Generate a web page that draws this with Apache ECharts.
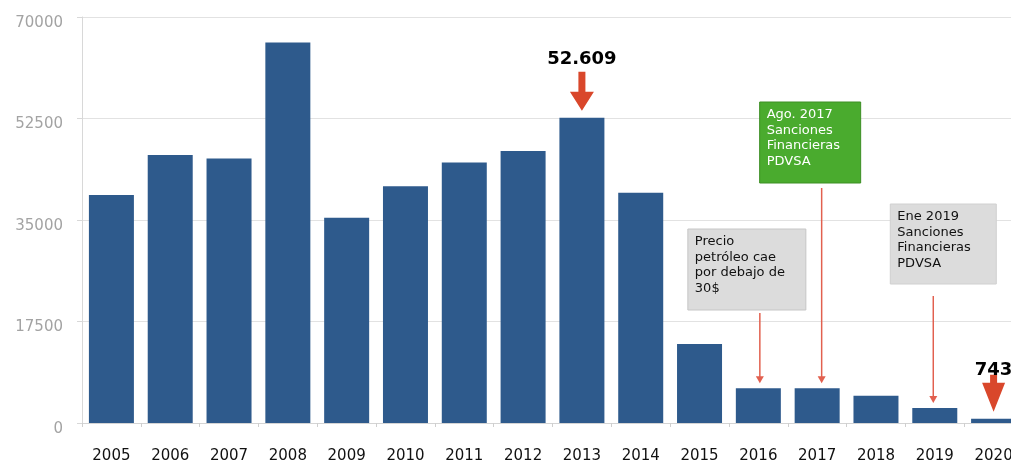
<!DOCTYPE html>
<html>
<head>
<meta charset="utf-8">
<script src="https://cdn.jsdelivr.net/npm/echarts@6/dist/echarts.min.js"></script>
<style>
html,body{margin:0;padding:0;background:#fff;}
#chart{width:1011px;height:461px;}
</style>
</head>
<body>
<div id="chart"></div>
<script>
// ---- data ----
const years = ['2005','2006','2007','2008','2009','2010','2011','2012','2013','2014','2015','2016','2017','2018','2019','2020'];
const values = [39300, 46200, 45600, 65600, 35400, 40800, 44900, 46900, 52609, 39700, 13600, 6000, 6000, 4700, 2600, 743];
const yMin = 0, yMax = 70000, yStep = 17500;

const highlightYears = ['2013', '2020'];
const highlightLabels = ['52.609', '743'];

const noteYears = ['2016', '2017', '2019'];
const noteTexts = [
  'Precio\npetróleo cae\npor debajo de\n30$',
  'Ago. 2017\nSanciones\nFinancieras\nPDVSA',
  'Ene 2019\nSanciones\nFinancieras\nPDVSA'
];

// ---- layout / style (not data) ----
const FONT = '"DejaVu Sans", sans-serif';
const highlightStyle = [
  {shaft: 20, head: 19, hw: 12, sw: 3.5, gap: 7, textDy: -52},
  {shaft: 8,  head: 29, hw: 11.5, sw: 3.5, gap: 7, textDy: -41}
];
const noteStyle = [
  {dxBox: -70.5, top: 229, w: 118, h: 81, dxLine: 1.5, lineGap: 3, fill: '#dcdcdc', stroke: '#c6c6c6', color: '#111'},
  {dxBox: -57.5, top: 102, w: 101, h: 81, dxLine: 4.5, lineGap: 5, fill: '#4aab2e', stroke: '#3c8f24', color: '#fff'},
  {dxBox: -44.5, top: 204, w: 106, h: 80, dxLine: -1.5, lineGap: 12, fill: '#dcdcdc', stroke: '#d0d0d0', color: '#111'}
];

const chart = echarts.init(document.getElementById('chart'));
chart.setOption({
  animation: false,
  grid: {left: 82, width: 941, top: 17, bottom: 38, outerBoundsMode: 'none', containLabel: false},
  xAxis: {
    type: 'category',
    data: years,
    axisLine: {lineStyle: {color: '#d4d4d4'}},
    axisTick: {show: true, length: 4, lineStyle: {color: '#cfcfcf'}},
    axisLabel: {color: '#111', fontSize: 15, fontFamily: FONT, margin: 26, hideOverlap: false}
  },
  yAxis: {
    type: 'value',
    min: yMin, max: yMax, interval: yStep,
    axisLine: {show: true, lineStyle: {color: '#d8d8d8'}},
    axisTick: {show: true, length: 5, lineStyle: {color: '#d8d8d8'}},
    splitLine: {lineStyle: {color: '#e2e2e2'}},
    axisLabel: {color: '#a3a3a3', fontSize: 15, fontFamily: FONT, margin: 19, verticalAlign: 'top',
                lineHeight: 12, formatter: v => String(v)}
  },
  series: [{
    type: 'bar',
    data: values,
    barWidth: 45,
    itemStyle: {color: '#2e5a8c'}
  }]
});

function buildAnnotations() {
  const g = [];
  highlightYears.forEach((yr, i) => {
    const idx = years.indexOf(yr);
    const p = chart.convertToPixel({seriesIndex: 0}, [idx, values[idx]]);
    const s = highlightStyle[i];
    const x = p[0], t = p[1] - s.gap;
    g.push({
      type: 'polygon',
      shape: {points: [
        [x - s.sw, t - s.head - s.shaft], [x + s.sw, t - s.head - s.shaft],
        [x + s.sw, t - s.head], [x + s.hw, t - s.head], [x, t],
        [x - s.hw, t - s.head], [x - s.sw, t - s.head]
      ]},
      style: {fill: '#d9472b'},
      z: 10
    });
    g.push({
      type: 'text',
      x: x, y: t + s.textDy,
      style: {text: highlightLabels[i], fill: '#000', font: 'bold 18px ' + FONT,
              textAlign: 'center', textVerticalAlign: 'middle'},
      z: 11
    });
  });
  noteYears.forEach((yr, i) => {
    const idx = years.indexOf(yr);
    const p = chart.convertToPixel({seriesIndex: 0}, [idx, values[idx]]);
    const s = noteStyle[i];
    const bx = p[0] + s.dxBox;
    g.push({
      type: 'rect',
      shape: {x: bx, y: s.top, width: s.w, height: s.h},
      style: {fill: s.fill, stroke: s.stroke, lineWidth: 1},
      z: 10
    });
    g.push({
      type: 'text',
      x: bx + 7, y: s.top + 5,
      style: {text: noteTexts[i], fill: s.color, font: '13px ' + FONT, lineHeight: 15.6,
              textAlign: 'left', textVerticalAlign: 'top'},
      z: 11
    });
    const lx = p[0] + s.dxLine;
    const y1 = s.top + s.h + s.lineGap;
    const tip = p[1] - 5;
    g.push({
      type: 'line',
      shape: {x1: lx, y1: y1, x2: lx, y2: tip - 6},
      style: {stroke: '#e2604f', lineWidth: 1.5},
      z: 10
    });
    g.push({
      type: 'polygon',
      shape: {points: [[lx - 4, tip - 7], [lx + 4, tip - 7], [lx, tip]]},
      style: {fill: '#e2604f'},
      z: 10
    });
  });
  chart.setOption({graphic: g});
}
buildAnnotations();
</script>
</body>
</html>
